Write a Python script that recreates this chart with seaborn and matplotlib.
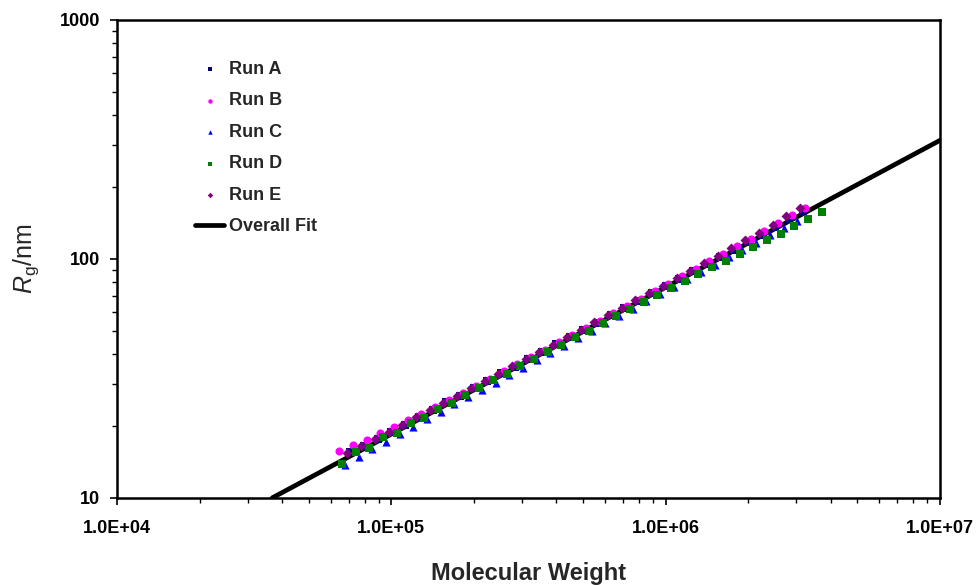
import matplotlib
matplotlib.use("Agg")
import matplotlib.pyplot as plt
import matplotlib.ticker as mticker
import seaborn as sns
import pandas as pd
import numpy as np

# ---- data ----
runA_mw = [70800, 79400, 89100, 100000, 112200, 125900, 141300, 158500, 177800, 199500,
           223900, 251200, 281800, 316200, 354800, 398100, 446700, 501200, 562300, 631000,
           707900, 794300, 891300, 1000000, 1122000, 1259000, 1413000, 1585000, 1778000,
           1995000, 2239000, 2512000, 2818000, 3162000]
runA_rg = [15.6, 16.5, 17.6, 18.9, 20.1, 21.8, 23.2, 25.1, 26.7, 28.9, 30.7, 33.2, 35.4,
           38.1, 40.6, 43.9, 46.9, 50.5, 53.9, 58.1, 62.3, 66.5, 71.8, 76.9, 82.4, 88.6,
           94.8, 102.3, 109.1, 117.6, 126.0, 135.4, 146.2, 157.0]

runB_mw = [64600, 72400, 81300, 91200, 102300, 114800, 128800, 144500, 162200, 182000,
           204200, 229100, 257000, 288400, 323600, 363100, 407400, 457100, 512900, 575400,
           645700, 724400, 812800, 912000, 1023000, 1148000, 1288000, 1445000, 1622000,
           1820000, 2042000, 2291000, 2570000, 2884000, 3236000]
runB_rg = [15.7, 16.6, 17.5, 18.6, 19.7, 21.1, 22.4, 23.9, 25.7, 27.4, 29.5, 31.5, 33.8,
           36.2, 38.8, 41.6, 44.7, 47.9, 51.3, 55.1, 59.2, 63.5, 68.2, 73.3, 78.6, 84.5,
           90.8, 97.6, 105.0, 112.8, 121.3, 131.0, 141.5, 153.2, 164.0]

runC_mw = [67600, 75900, 85100, 95500, 107200, 120200, 134900, 151400, 169800, 190500,
           213800, 239900, 269200, 302000, 338800, 380200, 426600, 478600, 537000, 602600,
           676100, 758600, 851100, 955000, 1072000, 1202000, 1349000, 1514000, 1698000,
           1905000, 2138000, 2399000, 2692000, 3020000]
runC_rg = [13.7, 14.8, 16.0, 17.1, 18.5, 19.8, 21.3, 22.8, 24.6, 26.3, 28.4, 30.3, 32.7,
           35.0, 37.6, 40.4, 43.3, 46.6, 50.0, 53.7, 57.5, 61.8, 66.4, 71.3, 76.4, 82.1,
           88.0, 94.6, 101.4, 109.0, 116.8, 125.4, 134.5, 144.2]

runD_mw = [66100, 74100, 83200, 93300, 104700, 117500, 131800, 147900, 166000, 186200,
           208900, 234400, 263000, 295100, 331100, 371500, 416900, 467700, 524800, 588800,
           660700, 741300, 831800, 933300, 1047000, 1175000, 1318000, 1479000, 1660000,
           1862000, 2089000, 2344000, 2630000, 2951000, 3311000, 3715000]
runD_rg = [13.8, 15.5, 16.2, 17.9, 18.7, 20.5, 21.6, 23.6, 24.9, 27.0, 28.7, 31.0, 33.0,
           35.6, 38.0, 40.9, 43.7, 46.9, 50.1, 53.8, 57.5, 61.7, 65.9, 70.6, 75.5, 80.7,
           86.2, 92.1, 98.2, 105.2, 111.8, 119.5, 127.6, 137.0, 146.5, 157.0]

runE_mw = [69200, 77600, 87100, 97700, 109600, 123000, 138000, 154900, 173800, 195000,
           218800, 245500, 275400, 309000, 346700, 389000, 436500, 489800, 549500, 616600,
           691800, 776200, 871000, 977200, 1096000, 1230000, 1380000, 1549000, 1738000,
           1950000, 2188000, 2455000, 2754000, 3090000]
runE_rg = [15.4, 16.5, 17.6, 18.9, 20.2, 21.7, 23.3, 24.9, 26.8, 28.7, 30.8, 33.1, 35.5,
           38.1, 40.8, 43.8, 47.1, 50.4, 54.2, 58.2, 62.4, 67.0, 71.9, 77.3, 83.0, 89.3,
           96.0, 103.2, 111.0, 119.4, 128.5, 138.6, 151.0, 163.5]

fit_mw = [36800, 10000000]
fit_rg = [10.0, 313.0]

run_names = ["Run A", "Run B", "Run C", "Run D", "Run E"]
run_colors = ["#000080", "#FF00FF", "#0000FF", "#008000", "#800080"]
run_markers = ["s", "o", "^", "s", "D"]
x_ticks = [1e4, 1e5, 1e6, 1e7]
x_ticklabels = ["1.0E+04", "1.0E+05", "1.0E+06", "1.0E+07"]
y_ticks = [10, 100, 1000]
y_ticklabels = ["10", "100", "1000"]

# ---- plotting ----
sns.set_theme(style="ticks")
plt.rcParams["font.family"] = ["Liberation Sans", "DejaVu Sans"]
plt.rcParams["mathtext.fontset"] = "custom"
plt.rcParams["mathtext.rm"] = "Liberation Sans"
plt.rcParams["mathtext.it"] = "Liberation Sans:italic"

fig = plt.figure(figsize=(9.8, 5.85), dpi=100)
ax = fig.add_axes([0.1195, 0.149, 0.8395, 0.817])

runs = [(runA_mw, runA_rg), (runB_mw, runB_rg), (runC_mw, runC_rg),
        (runD_mw, runD_rg), (runE_mw, runE_rg)]
for (mw, rg), name, col, mk in zip(runs, run_names, run_colors, run_markers):
    df = pd.DataFrame({"mw": mw, "rg": rg})
    sizes = 34 if mk != "D" else 26
    sns.scatterplot(data=df, x="mw", y="rg", ax=ax, color=col, marker=mk,
                    s=sizes, linewidth=0, label=name, zorder=3)

fit_df = pd.DataFrame({"mw": fit_mw, "rg": fit_rg})
sns.lineplot(data=fit_df, x="mw", y="rg", ax=ax, color="black", linewidth=3.4,
             label="Overall Fit", zorder=2)

ax.set_xscale("log")
ax.set_yscale("log")
ax.set_xlim(1e4, 1e7)
ax.set_ylim(10, 1000)

ax.xaxis.set_major_locator(mticker.FixedLocator(x_ticks))
ax.yaxis.set_major_locator(mticker.FixedLocator(y_ticks))
ax.set_xticklabels(x_ticklabels, fontsize=13, fontweight="bold")
ax.set_yticklabels(y_ticklabels, fontsize=13, fontweight="bold")
ax.xaxis.set_minor_locator(mticker.LogLocator(base=10, subs=np.arange(2, 10)))
ax.yaxis.set_minor_locator(mticker.LogLocator(base=10, subs=np.arange(2, 10)))
ax.xaxis.set_minor_formatter(mticker.NullFormatter())
ax.yaxis.set_minor_formatter(mticker.NullFormatter())

ax.tick_params(axis="both", which="major", direction="out", length=5, width=1.2,
               color="black", labelcolor="black")
ax.tick_params(axis="both", which="minor", direction="out", length=3.5, width=1.0,
               color="black")
ax.tick_params(axis="x", which="major", pad=11)
ax.tick_params(axis="y", which="major", pad=7)

for sp in ax.spines.values():
    sp.set_visible(True)
    sp.set_color("black")
    sp.set_linewidth(1.8)

ax.set_xlabel("Molecular Weight", fontsize=17, fontweight="bold", labelpad=18)
ax.set_ylabel(r"$\mathit{R}_{\mathrm{g}}$/nm", fontsize=18, labelpad=14)

leg = ax.legend(loc="upper left", bbox_to_anchor=(0.075, 0.948), frameon=False,
                prop={"weight": "bold", "size": 13}, labelspacing=0.8,
                handlelength=1.6, handletextpad=0.28, markerscale=0.55)

fig.savefig("out.png", dpi=100)
